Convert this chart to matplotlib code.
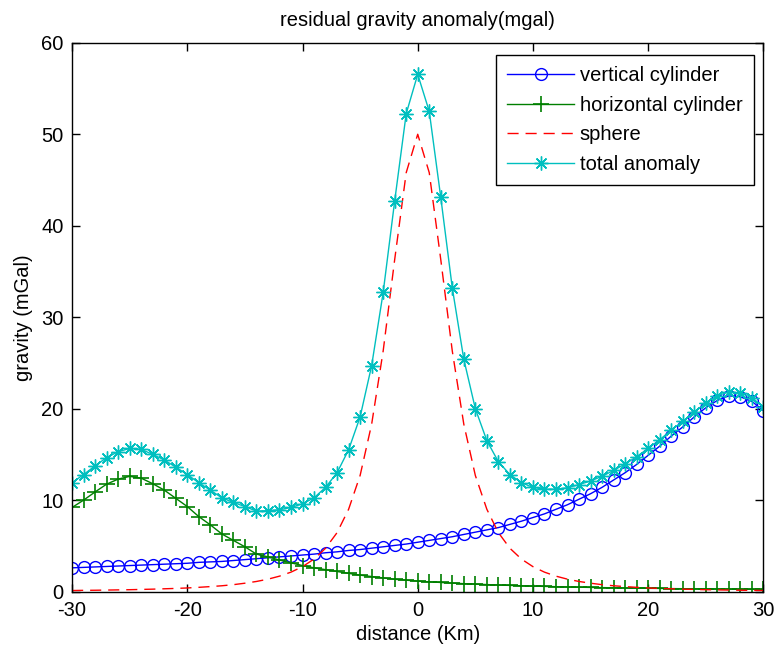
"""Residual gravity anomaly over three buried bodies, MATLAB-style line plot."""

import numpy as np
import matplotlib
matplotlib.use("Agg")
import matplotlib.pyplot as plt

# distance along profile (km), one station per km
dist = list(range(-30, 31))

vertical_cyl = [
    2.6, 2.65, 2.7, 2.75, 2.8, 2.85, 2.9, 2.95, 3.0, 3.05,
    3.1, 3.2, 3.25, 3.3, 3.4, 3.5, 3.6, 3.7, 3.8, 3.9,
    4.0, 4.1, 4.25, 4.35, 4.5, 4.6, 4.75, 4.9, 5.05, 5.2,
    5.4,
    5.6, 5.8, 6.0, 6.25, 6.5, 6.75, 7.0, 7.35, 7.7, 8.1,
    8.5, 9.0, 9.5, 10.1, 10.7, 11.4, 12.2, 13.0, 13.9, 14.9,
    15.9, 17.0, 18.0, 19.1, 20.1, 20.9, 21.4, 21.3, 20.8, 19.8,
]

horizontal_cyl = [
    9.2, 10.0, 10.9, 11.75, 12.3, 12.6, 12.4, 11.8, 11.1, 10.2,
    9.3, 8.2, 7.3, 6.3, 5.6, 4.9, 4.1, 3.8, 3.45, 3.15,
    2.85, 2.6, 2.4, 2.2, 2.0, 1.8, 1.65, 1.5, 1.35, 1.25,
    1.15,
    1.07, 1.0, 0.93, 0.87, 0.82, 0.77, 0.72, 0.68, 0.64, 0.6,
    0.57, 0.54, 0.51, 0.48, 0.46, 0.44, 0.42, 0.4, 0.38, 0.36,
    0.35, 0.33, 0.32, 0.31, 0.3, 0.29, 0.28, 0.27, 0.26, 0.25,
]

sphere = [
    0.12, 0.14, 0.15, 0.17, 0.19, 0.21, 0.24, 0.27, 0.31, 0.35,
    0.40, 0.47, 0.55, 0.64, 0.76, 0.92, 1.11, 1.36, 1.69, 2.13,
    2.73, 3.56, 4.74, 6.45, 9.0, 12.7, 18.3, 26.3, 36.3, 45.8,
    50.0,
    45.8, 36.3, 26.3, 18.3, 12.7, 9.0, 6.45, 4.74, 3.56, 2.73,
    2.13, 1.69, 1.36, 1.11, 0.92, 0.76, 0.64, 0.55, 0.47, 0.40,
    0.35, 0.31, 0.27, 0.24, 0.21, 0.19, 0.17, 0.15, 0.14, 0.12,
]

total = [
    11.9, 12.8, 13.75, 14.65, 15.3, 15.65, 15.55, 15.0, 14.4, 13.6,
    12.8, 11.9, 11.1, 10.25, 9.75, 9.3, 8.8, 8.85, 8.95, 9.2,
    9.6, 10.25, 11.4, 13.0, 15.5, 19.1, 24.7, 32.7, 42.7, 52.25,
    56.55,
    52.5, 43.1, 33.2, 25.4, 20.0, 16.5, 14.2, 12.8, 11.9, 11.4,
    11.2, 11.2, 11.35, 11.7, 12.1, 12.6, 13.25, 13.95, 14.75, 15.65,
    16.6, 17.65, 18.6, 19.65, 20.6, 21.4, 21.85, 21.7, 21.2, 20.2,
]

labels = ["vertical cylinder", "horizontal cylinder", "sphere", "total anomaly"]

plt.rcParams["font.family"] = ["Liberation Sans", "DejaVu Sans"]
plt.rcParams["font.size"] = 14.5
plt.rcParams["axes.unicode_minus"] = False

fig = plt.figure(figsize=(7.75, 6.48), dpi=100)
ax = fig.add_axes([0.093, 0.087, 0.892, 0.847])

ax.plot(dist, vertical_cyl, "-o", color="#0000ff", lw=1.0, ms=8.5,
        mfc="none", mew=1.0, label=labels[0])
ax.plot(dist, horizontal_cyl, "-+", color="#007f00", lw=1.0, ms=11,
        mew=1.2, label=labels[1])
ax.plot(dist, sphere, "--", color="#ff0000", lw=1.0, dashes=(8, 5),
        label=labels[2])
ax.plot(dist, total, "-", marker=(8, 2, 0), color="#00bfbf", lw=1.0, ms=10,
        mew=1.0, label=labels[3])

ax.set_xlim(-30, 30)
ax.set_ylim(0, 60)
ax.set_xticks(range(-30, 31, 10))
ax.set_yticks(range(0, 61, 10))
ax.tick_params(direction="in", length=6, width=1.0, top=True, right=True)
ax.tick_params(axis="x", pad=7)
ax.tick_params(axis="y", pad=6)
for s in ax.spines.values():
    s.set_linewidth(1.0)

ax.set_xlabel("distance (Km)", labelpad=3)
ax.set_ylabel("gravity (mGal)", labelpad=6)
ax.set_title("residual gravity anomaly(mgal)", fontsize=14.5, pad=12)

leg = ax.legend(loc="upper right", bbox_to_anchor=(0.986, 0.977),
                borderaxespad=0, handlelength=3.3, handletextpad=0.3,
                labelspacing=0.52, borderpad=0.55, fancybox=False,
                edgecolor="black", framealpha=1)
leg.get_frame().set_linewidth(1.0)

fig.savefig("out.png", dpi=100)
